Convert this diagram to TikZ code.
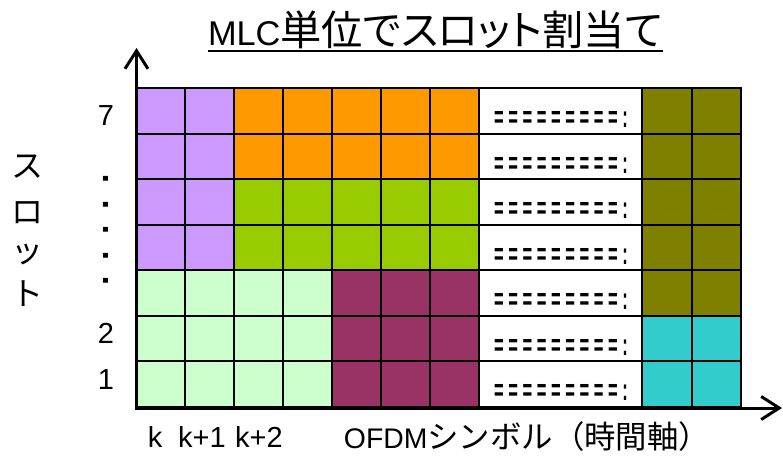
\documentclass[tikz,border=0pt]{standalone}
\usepackage{fontspec}
\usepackage{graphicx}
\setmainfont{Liberation Sans}
\newfontfamily\jp{Noto Sans CJK JP}
\newfontfamily\jpp[CharacterWidth=AlternateProportional]{Noto Sans CJK JP}
\usetikzlibrary{arrows.meta}
\definecolor{cPurple}{HTML}{CC99FF}
\definecolor{cOrange}{HTML}{FF9900}
\definecolor{cGreen}{HTML}{99CC00}
\definecolor{cLGreen}{HTML}{CCFFCC}
\definecolor{cMaroon}{HTML}{993366}
\definecolor{cOlive}{HTML}{808000}
\definecolor{cCyan}{HTML}{33CCCC}
\begin{document}
\begin{tikzpicture}[x=1pt,y=-1pt,
  lbl/.style={inner sep=0pt, anchor=base, font=\fontsize{29}{34}\selectfont},
  jplbl/.style={inner sep=0pt, anchor=base, font=\jp\fontsize{32}{40}\selectfont},
  dotlbl/.style={inner sep=0pt, anchor=center, rotate=90, font=\bfseries\fontsize{34}{40}\selectfont},
  dashlbl/.style={inner sep=0pt, anchor=base, font=\bfseries\fontsize{28}{32}\selectfont},
  gridline/.style={line width=2pt, black, line cap=rect},
  axis/.style={line width=3pt, black, {Straight Barb[length=18pt,width=23pt]}-{Straight Barb[length=18pt,width=23pt]}}
]
\useasboundingbox (0,0) rectangle (783,456);

% title
\node[inner sep=0pt, anchor=base] (title) at (435.5,45)
  {\resizebox{455pt}{!}{\fontsize{35}{40}\selectfont MLC{\jpp\fontsize{42}{48}\selectfont 単位でスロット割当て}}};
\draw[line width=2.5pt] ([yshift=-6pt]title.base west) -- ([yshift=-6pt]title.base east);

% colored regions
\fill[cPurple] (136,88) rectangle (234,270.3);
\fill[cOrange] (234,88) rectangle (479,179.1);
\fill[cGreen]  (234,179.1) rectangle (479,270.3);
\fill[cLGreen] (136,270.3) rectangle (332,407);
\fill[cMaroon] (332,270.3) rectangle (479,407);
\fill[white]   (479,88) rectangle (642,407);
\fill[cOlive]  (642,88) rectangle (741,315.9);
\fill[cCyan]   (642,315.9) rectangle (741,407);

% grid
\foreach \x in {136,185,234,283,332,381,430,479,642,691.5,741}
  \draw[gridline] (\x,88) -- (\x,407);
\foreach \y in {88,133.6,179.1,224.7,270.3,315.9,361.4,407}
  \draw[gridline] (136,\y) -- (741,\y);

% dashes in the white column
\foreach \y [count=\i] in {88,133.6,179.1,224.7,270.3,315.9,361.4}
  \node[dashlbl] (dash\i) at (561,\y+39.5) {\scalebox{0.59}[1.1]{= = = = = = = = = :}};

% axes
\coordinate (O) at (136.5,408);
\coordinate (ytip) at (136.5,48);
\coordinate (xtip) at (782,408);
\draw[axis] (ytip) -- (O) -- (xtip);

% y labels
\node[lbl] (l7) at (106,125) {7};
\node[lbl] (l2) at (106,343) {2};
\node[lbl] (l1) at (106,389.5) {1};
\node[dotlbl] (dots) at (105.5,230) {.\kern16.15pt.\kern16.15pt.\kern16.15pt.\kern16.15pt.};

% vertical axis title
\foreach \ch/\y [count=\i] in {ス/177,ロ/223,ッ/262,ト/305}
  \node[jplbl] (slot\i) at (28,\y) {\ch};

% x labels
\node[lbl] (k0) at (155,447) {k};
\node[lbl] (k1) at (202,447) {k+1};
\node[lbl] (k2) at (259,447) {k+2};
\node[inner sep=0pt, anchor=base] (xtitle) at (527,448)
  {\resizebox{366pt}{!}{\fontsize{28}{34}\selectfont OFDM{\jp\fontsize{31}{36}\selectfont シンボル（時間軸）}}};
\end{tikzpicture}
\end{document}
